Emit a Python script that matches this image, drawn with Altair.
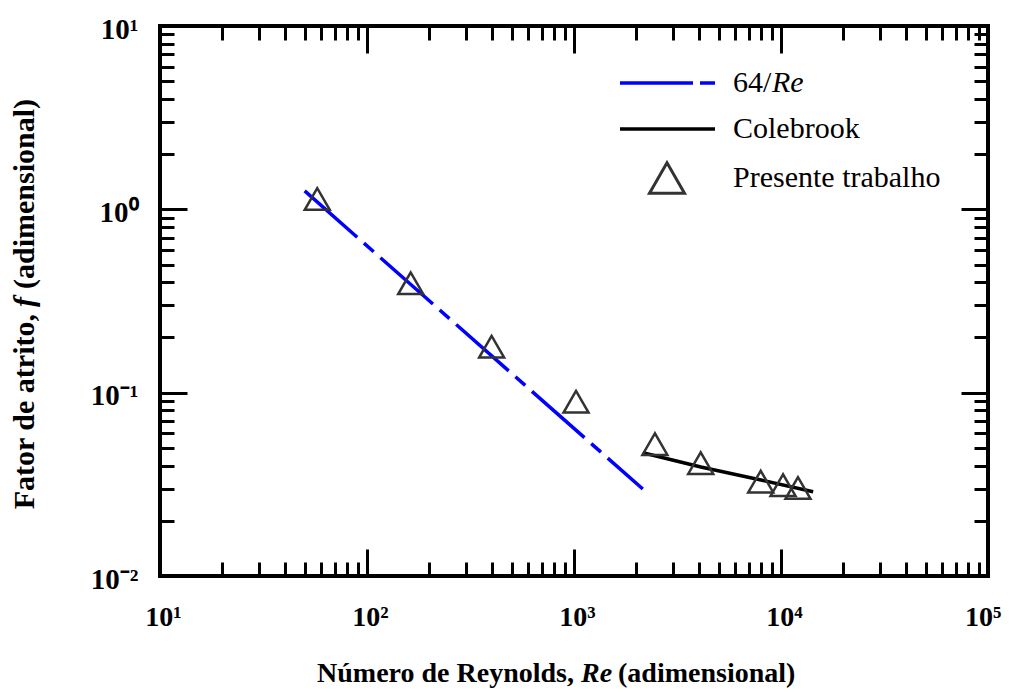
import altair as alt
import pandas as pd

# ---- data ----
re_exp = [57.5, 162.6, 400, 1023, 2460, 4093, 7980, 10230, 12080]
f_exp = [1.138, 0.395, 0.178, 0.0892, 0.0524, 0.0413, 0.0327, 0.0313, 0.0302]

re_lam = [50, 2150]
f_lam = [1.26, 0.0298]

re_cb = [2150, 4100, 8000, 14300]
f_cb = [0.0470, 0.0393, 0.0334, 0.0288]

x_major = [10, 100, 1000, 10000, 100000]
x_labels = ["10¹", "10²", "10³", "10⁴", "10⁵"]
y_major = [0.01, 0.1, 1, 10]
y_labels = ["10⁻²", "10⁻¹", "10⁰", "10¹"]

legend_labels = ["64/", "Re", "Colebrook", "Presente trabalho"]
x_title_parts = ["Número de Reynolds,", "Re", "(adimensional)"]
y_title_parts = ["Fator de atrito,", "f", "(adimensional)"]

FONT = "Liberation Serif"
W, H = 828, 550

df_exp = pd.DataFrame({"Re": re_exp, "f": f_exp})
df_lam = pd.DataFrame({"Re": re_lam, "f": f_lam})
df_cb = pd.DataFrame({"Re": re_cb, "f": f_cb})
one = pd.DataFrame({"k": [0]})

xs = alt.Scale(type="log", domain=[x_major[0], x_major[-1]], nice=False)
ys = alt.Scale(type="log", domain=[y_major[0], y_major[-1]], nice=False)

x_ticks = [m * d for d in x_major[:-1] for m in range(1, 10)] + [x_major[-1]]
y_ticks = [round(m * d, 6) for d in y_major[:-1] for m in range(1, 10)] + [y_major[-1]]

major_test = "abs(log(datum.value)/LN10 - round(log(datum.value)/LN10)) < 0.001"
tick_size = {"condition": {"test": major_test, "value": 27}, "value": 14}


def tick_axis(orient, values, offset):
    return alt.Axis(orient=orient, offset=offset, values=values, labels=False,
                    domain=False, grid=False, ticks=True, tickColor="black",
                    tickWidth=3, tickSize=tick_size, title=None)


def label_expr(vals, labs):
    return " : ".join(f"datum.value == {v} ? '{l}'" for v, l in zip(vals, labs)) + " : ''"


last_x = f"datum.value == {x_major[-1]}"
x_label_axis = alt.Axis(orient="bottom", values=x_major, labelExpr=label_expr(x_major, x_labels),
                        ticks=False, tickSize=0, domain=False, grid=False,
                        labelFont=FONT, labelFontSize=28, labelFontWeight="bold",
                        labelColor="black", labelPadding=27,
                        labelAlign={"condition": {"test": last_x, "value": "right"}, "value": "center"},
                        labelOffset={"condition": {"test": last_x, "value": 13}, "value": 3},
                        labelFlush=False, labelOverlap=False, title=None)
y_label_axis = alt.Axis(orient="left", values=y_major, labelExpr=label_expr(y_major, y_labels),
                        ticks=False, tickSize=0, domain=False, grid=False,
                        labelFont=FONT, labelFontSize=29, labelFontWeight="bold",
                        labelColor="black", labelPadding=22, labelOffset=3,
                        labelBaseline="middle",
                        labelFlush=False, labelOverlap=False, title=None)

lam = alt.Chart(df_lam).mark_line(color="#0000ff", strokeWidth=3.5, strokeDash=[70, 9, 13, 9]).encode(
    x=alt.X("Re:Q", scale=xs, axis=tick_axis("top", x_ticks, -H)),
    y=alt.Y("f:Q", scale=ys, axis=tick_axis("right", y_ticks, -W)),
)
cb = alt.Chart(df_cb).mark_line(color="black", strokeWidth=3.5).encode(
    x=alt.X("Re:Q", scale=xs, axis=tick_axis("bottom", x_ticks, -H)),
    y=alt.Y("f:Q", scale=ys, axis=tick_axis("left", y_ticks, -W)),
)
pts = alt.Chart(df_exp).mark_point(shape="triangle-up", size=625, filled=False,
                                   stroke="#333333", strokeWidth=2.5, opacity=1).encode(
    x=alt.X("Re:Q", scale=xs, axis=x_label_axis),
    y=alt.Y("f:Q", scale=ys, axis=y_label_axis),
)

# ---- legend (drawn inside the plot) ----
leg_blue = alt.Chart(one).mark_rule(color="#0000ff", strokeWidth=3.5, strokeDash=[73, 7, 15, 8]).encode(
    x=alt.value(460), x2=alt.value(555), y=alt.value(57))
leg_black = alt.Chart(one).mark_rule(color="black", strokeWidth=3.5).encode(
    x=alt.value(460), x2=alt.value(555), y=alt.value(103))
leg_tri = alt.Chart(one).mark_point(shape="triangle-up", size=1225, filled=False,
                                    stroke="#333333", strokeWidth=3, opacity=1).encode(
    x=alt.value(507), y=alt.value(152))


def txt(text, x, y, **kw):
    base = dict(text=text, font=FONT, fontSize=28, color="black", baseline="middle", align="left")
    base.update(kw)
    return alt.Chart(one).mark_text(**base).encode(x=alt.value(x), y=alt.value(y))


leg_t1 = txt(legend_labels[0], 573, 57, fontSize=30)
leg_t2 = txt(legend_labels[1], 612, 57, fontSize=30, fontStyle="italic")
leg_t3 = txt(legend_labels[2], 573, 103, fontSize=30)
leg_t4 = txt(legend_labels[3], 573, 152, fontSize=30)

# ---- axis titles ----
xt1 = txt(x_title_parts[0], 414, 648, align="right", fontWeight="bold")
xt2 = txt(x_title_parts[1], 421, 648, fontWeight="bold", fontStyle="italic")
xt3 = txt(x_title_parts[2], 458, 648, fontWeight="bold")

yt1 = txt(y_title_parts[0], -135, 288, align="right", angle=270, fontWeight="bold", fontSize=30)
yt2 = txt(y_title_parts[1], -135, 281, angle=270, fontWeight="bold", fontStyle="italic", fontSize=30)
yt3 = txt(y_title_parts[2], -135, 263, angle=270, fontWeight="bold", fontSize=30)

chart = alt.layer(
    lam, cb, pts,
    leg_blue, leg_black, leg_tri, leg_t1, leg_t2, leg_t3, leg_t4,
    xt1, xt2, xt3, yt1, yt2, yt3,
).resolve_axis(
    x="independent", y="independent"
).properties(
    width=W, height=H,
    padding={"left": 152, "top": 18, "right": 14, "bottom": 114},
    autosize=alt.AutoSizeParams(type="none"),
    background="white",
).configure_view(
    stroke="black", strokeWidth=4
)

chart.save("out.html", embed_options={"renderer": "svg", "actions": False})
